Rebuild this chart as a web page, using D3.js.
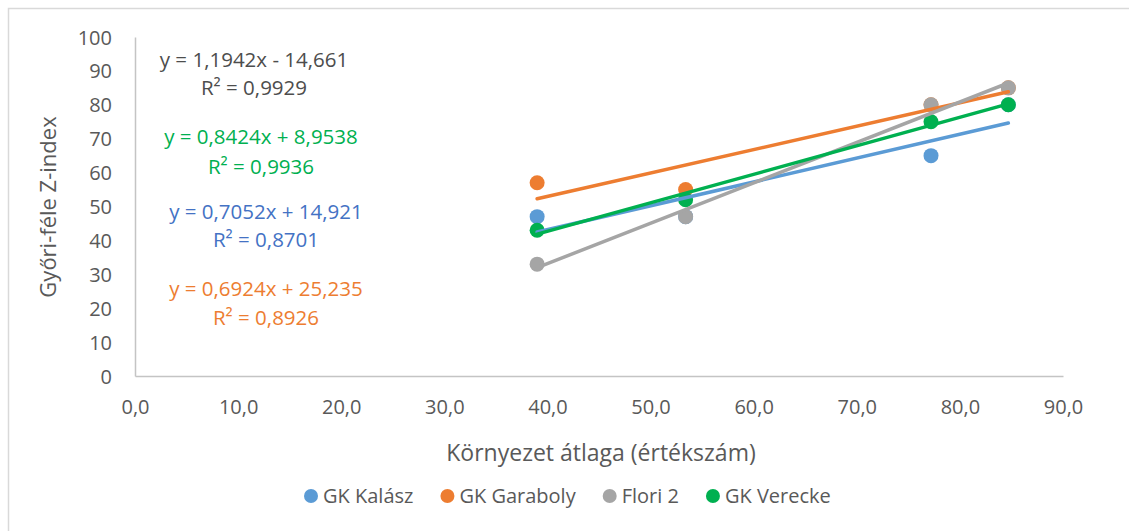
<!DOCTYPE html>
<html lang="hu">
<head>
    <meta charset="UTF-8">
    <title>Győri-féle Z-index</title>
    <script src="https://cdn.jsdelivr.net/npm/d3@7"></script>
    <style>
        body { margin: 0; background: #fff; }
        text { font-family: 'Open Sans', sans-serif; }
    </style>
</head>
<body>
<script>
    // adatok
    const envMeans = [39.0, 53.4, 77.2, 84.7]
    const kalasz = [47, 47, 65, 80]
    const garaboly = [57, 55, 80, 85]
    const flori = [33, 47, 80, 85]
    const verecke = [43, 52, 75, 80]
    const seriesNames = ['GK Kalász', 'GK Garaboly', 'Flori 2', 'GK Verecke']
    const seriesColors = ['#5B9BD5', '#ED7D31', '#A5A5A5', '#00B050']
    const eqTexts = ['y = 0,7052x + 14,921', 'y = 0,6924x + 25,235', 'y = 1,1942x - 14,661', 'y = 0,8424x + 8,9538']
    const r2Texts = ['R² = 0,8701', 'R² = 0,8926', 'R² = 0,9929', 'R² = 0,9936']
    const eqColors = ['#4472C4', '#ED7D31', '#4D4D4D', '#00B050']
    const xTicks = d3.range(0, 91, 10)
    const yTicks = d3.range(0, 101, 10)

    const [width, height] = [1129, 531]
    const svg = d3.select('body').append('svg')
        .attr('width', width)
        .attr('height', height)

    // keret
    svg.append('rect')
        .attr('x', 8.5).attr('y', 8.5)
        .attr('width', 1200).attr('height', 600)
        .attr('fill', 'none')
        .attr('stroke', '#D9D9D9')
        .attr('stroke-width', 1.5)

    const x = d3.scaleLinear().domain([0, 90]).range([135, 1063])
    const y = d3.scaleLinear().domain([0, 100]).range([376, 37])

    const xAxis = svg.append('g')
        .attr('transform', `translate(0, ${y(0)})`)
        .call(d3.axisBottom(x).tickValues(xTicks).tickSize(0).tickPadding(24)
            .tickFormat(d => d3.format('.1f')(d).replace('.', ',')))
    const yAxis = svg.append('g')
        .attr('transform', `translate(${x(0)}, 0)`)
        .call(d3.axisLeft(y).tickValues(yTicks).tickSize(0).tickPadding(23))
    ;[xAxis, yAxis].forEach(ax => {
        ax.select('.domain').attr('stroke', '#C4C4C4').attr('stroke-width', 1.5)
        ax.selectAll('text')
            .attr('fill', '#595959')
            .style('font-size', '20px')
            .style('font-family', "'Open Sans', sans-serif")
    })
    yAxis.selectAll('text').attr('dy', '0.35em')

    // tengelycímek
    svg.append('text')
        .attr('x', 601).attr('y', 453)
        .attr('dy', '0.35em')
        .attr('text-anchor', 'middle')
        .attr('fill', '#595959')
        .style('font-size', '23px')
        .text('Környezet átlaga (értékszám)')
    svg.append('text')
        .attr('transform', 'translate(48, 207) rotate(-90)')
        .attr('dy', '0.35em')
        .attr('text-anchor', 'middle')
        .attr('fill', '#595959')
        .style('font-size', '22px')
        .text('Győri-féle Z-index')

    const series = [kalasz, garaboly, flori, verecke].map((vals, i) => ({
        name: seriesNames[i],
        color: seriesColors[i],
        points: vals.map((v, j) => ({x: envMeans[j], y: v}))
    }))

    // legkisebb négyzetek
    const linFit = pts => {
        const mx = d3.mean(pts, d => d.x), my = d3.mean(pts, d => d.y)
        const sxy = d3.sum(pts, d => (d.x - mx) * (d.y - my))
        const sxx = d3.sum(pts, d => (d.x - mx) ** 2)
        const b = sxy / sxx
        return xv => my + b * (xv - mx)
    }

    const pointsG = svg.append('g')
    series.forEach(s => {
        pointsG.selectAll(null).data(s.points).enter().append('circle')
            .attr('cx', d => x(d.x))
            .attr('cy', d => y(d.y))
            .attr('r', 7.5)
            .attr('fill', s.color)
    })

    const line = d3.line().x(d => x(d.x)).y(d => y(d.y))
    const trendG = svg.append('g')
    series.forEach(s => {
        const f = linFit(s.points)
        const ext = d3.extent(s.points, d => d.x)
        trendG.append('path')
            .attr('d', line(ext.map(xv => ({x: xv, y: f(xv)}))))
            .attr('fill', 'none')
            .attr('stroke', s.color)
            .attr('stroke-width', 3.5)
            .attr('stroke-linecap', 'round')
    })

    // egyenletek
    const eqPos = [[266, 212, 240], [266, 289, 318], [254, 60, 88], [261, 137, 167]]
    eqTexts.forEach((t, i) => {
        const [cx, y1, y2] = eqPos[i]
        const g = svg.append('g').attr('fill', eqColors[i]).style('font-size', '20.5px')
        g.append('text').attr('x', cx).attr('y', y1).attr('dy', '0.35em')
            .attr('text-anchor', 'middle').text(t)
        g.append('text').attr('x', cx).attr('y', y2).attr('dy', '0.35em')
            .attr('text-anchor', 'middle').text(r2Texts[i])
    })

    // jelmagyarázat
    const legend = svg.append('g')
    let lx = 311
    series.forEach(s => {
        legend.append('circle')
            .attr('cx', lx).attr('cy', 496).attr('r', 7)
            .attr('fill', s.color)
        const t = legend.append('text')
            .attr('x', lx + 12).attr('y', 496)
            .attr('dy', '0.35em')
            .attr('fill', '#595959')
            .style('font-size', '20px')
            .text(s.name)
        lx += 12 + t.node().getComputedTextLength() + 34
    })
</script>
</body>
</html>
